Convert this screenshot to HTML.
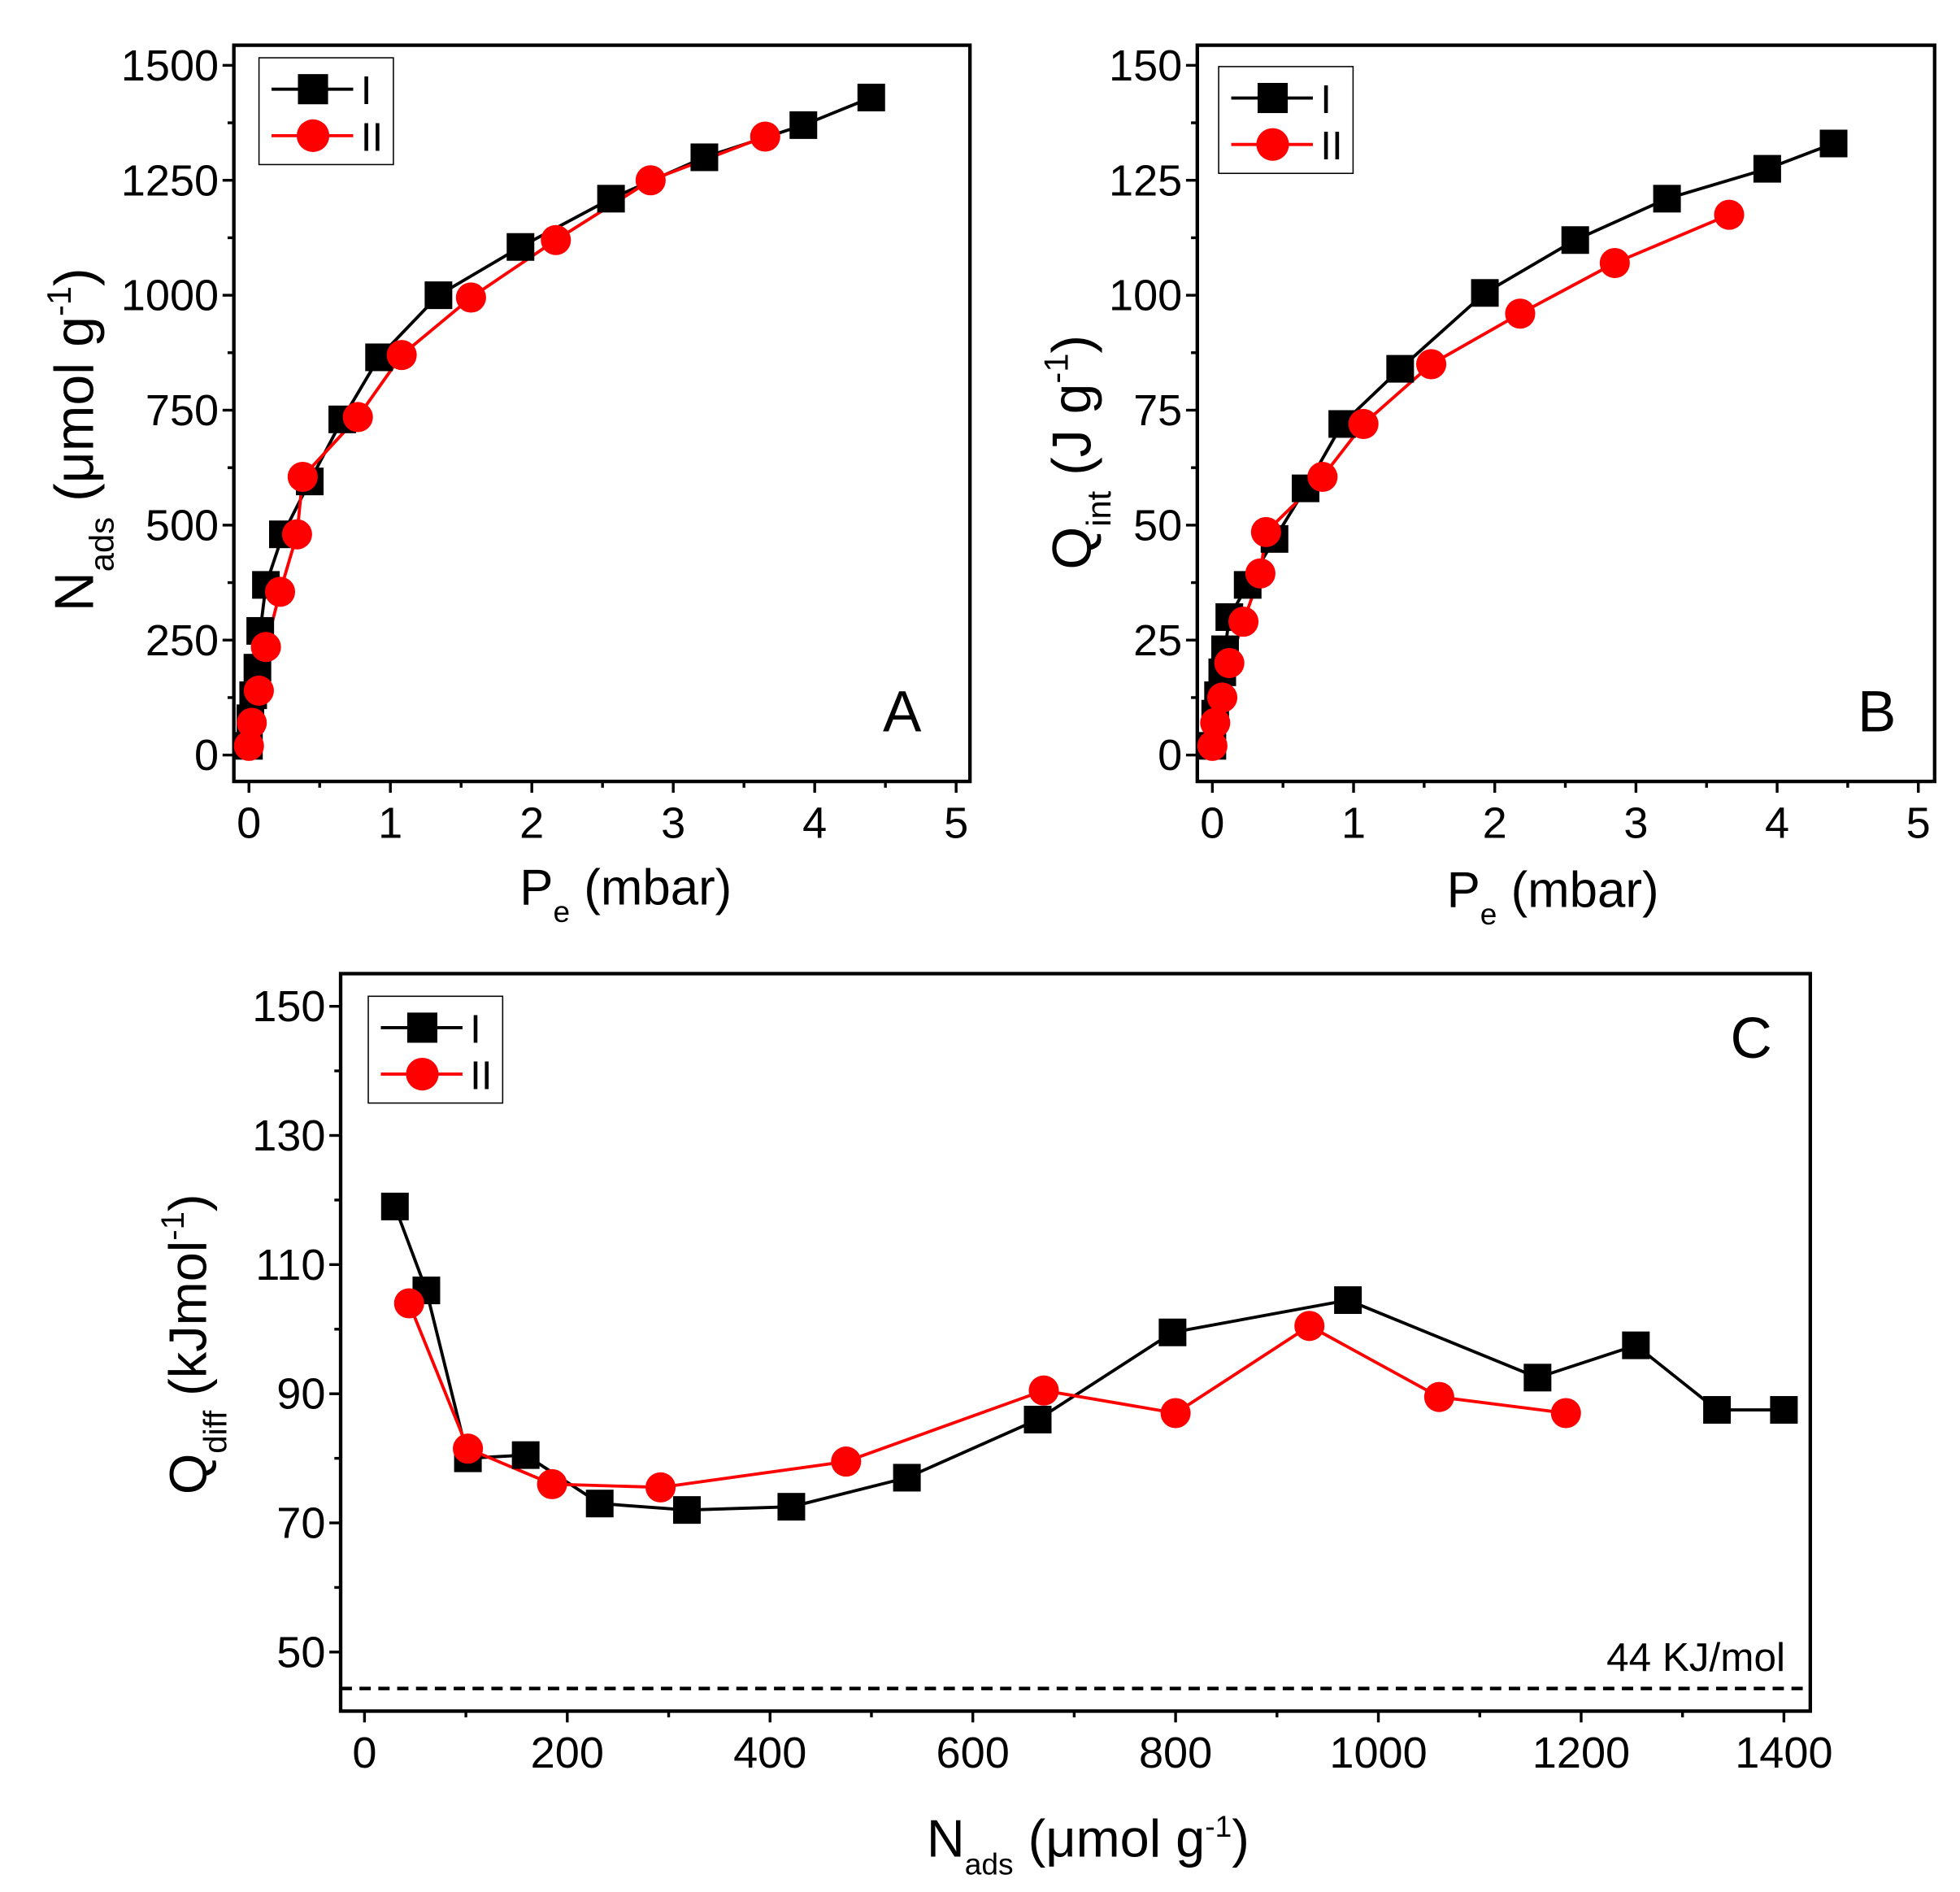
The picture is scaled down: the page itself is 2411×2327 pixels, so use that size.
<!DOCTYPE html>
<html><head><meta charset="utf-8"><style>
html,body{margin:0;padding:0;background:#fff;}
svg{display:block;}
text{font-family:"Liberation Sans",Arial,sans-serif;fill:#000;}
</style></head><body>
<svg id="s" width="2411" height="2327" viewBox="0 0 1560 1506" xmlns="http://www.w3.org/2000/svg"></svg>
<script>
var S=document.getElementById('s'),h='';
function panel(o){
  var X=function(v){return o.x0+(v-o.xa)*o.xs;},Y=function(v){return o.y0-(v-o.ya)*o.ys;};
  h+='<rect x="'+o.L+'" y="'+o.T+'" width="'+(o.R-o.L)+'" height="'+(o.B-o.T)+'" fill="none" stroke="#000" stroke-width="2.8"/>';
  o.yt.forEach(function(v){var y=Y(v);h+='<line x1="'+(o.L-9)+'" y1="'+y+'" x2="'+o.L+'" y2="'+y+'" stroke="#000" stroke-width="2.2"/>';
    h+='<text x="'+(o.L-12)+'" y="'+(y+12)+'" font-size="'+o.fs+'" text-anchor="end">'+v+'</text>';});
  o.ym.forEach(function(v){var y=Y(v);h+='<line x1="'+(o.L-5)+'" y1="'+y+'" x2="'+o.L+'" y2="'+y+'" stroke="#000" stroke-width="2.2"/>';});
  o.xt.forEach(function(v){var x=X(v);h+='<line x1="'+x+'" y1="'+o.B+'" x2="'+x+'" y2="'+(o.B+9)+'" stroke="#000" stroke-width="2.2"/>';
    h+='<text x="'+x+'" y="'+(o.B+45)+'" font-size="'+o.fs+'" text-anchor="middle">'+v+'</text>';});
  o.xm.forEach(function(v){var x=X(v);h+='<line x1="'+x+'" y1="'+o.B+'" x2="'+x+'" y2="'+(o.B+5)+'" stroke="#000" stroke-width="2.2"/>';});
  function pts(d){return d.map(function(p){return X(p[0])+','+Y(p[1]);}).join(' ');}
  h+='<polyline points="'+pts(o.s1)+'" fill="none" stroke="#000" stroke-width="2.5"/>';
  h+='<polyline points="'+pts(o.s2)+'" fill="none" stroke="#f00" stroke-width="2.5"/>';
  o.s1.forEach(function(p){h+='<rect x="'+(X(p[0])-11)+'" y="'+(Y(p[1])-11)+'" width="22" height="22" fill="#000"/>';});
  o.s2.forEach(function(p){h+='<circle cx="'+X(p[0])+'" cy="'+Y(p[1])+'" r="12" fill="#f00"/>';});
  var lx=o.lg[0],ly=o.lg[1];
  h+='<rect x="'+lx+'" y="'+ly+'" width="107" height="85" fill="#fff" stroke="#000" stroke-width="1"/>';
  h+='<line x1="'+(lx+10)+'" y1="'+(ly+25)+'" x2="'+(lx+75)+'" y2="'+(ly+25)+'" stroke="#000" stroke-width="2.5"/>';
  h+='<rect x="'+(lx+31)+'" y="'+(ly+13)+'" width="24" height="24" fill="#000"/>';
  h+='<line x1="'+(lx+10)+'" y1="'+(ly+62)+'" x2="'+(lx+75)+'" y2="'+(ly+62)+'" stroke="#f00" stroke-width="2.5"/>';
  h+='<circle cx="'+(lx+43)+'" cy="'+(ly+62)+'" r="13" fill="#f00"/>';
  h+='<text x="'+(lx+81)+'" y="'+(ly+37)+'" font-size="32">I</text>';
  h+='<text x="'+(lx+81)+'" y="'+(ly+74)+'" font-size="32">II</text>';
}
panel({L:186,R:772,T:36,B:622,x0:198,xa:0,xs:112.6,y0:601,ya:0,ys:549/1500,fs:35,
 yt:[0,250,500,750,1000,1250,1500],ym:[125,375,625,875,1125,1375],xt:[0,1,2,3,4,5],xm:[0.5,1.5,2.5,3.5,4.5],
 s1:[[0,20],[0.01,80],[0.03,130],[0.06,190],[0.08,270],[0.12,370],[0.24,480],[0.43,595],[0.66,730],[0.92,865],[1.34,1000],[1.92,1105],[2.56,1210],[3.22,1300],[3.92,1370],[4.4,1430]],
 s2:[[0,20],[0.02,70],[0.07,140],[0.12,235],[0.22,355],[0.34,480],[0.38,605],[0.77,735],[1.08,870],[1.57,995],[2.17,1120],[2.84,1250],[3.65,1345]],
 lg:[206,46]});
panel({L:953,R:1540,T:36,B:622,x0:965,xa:0,xs:112.4,y0:601,ya:0,ys:549/150,fs:35,
 yt:[0,25,50,75,100,125,150],ym:[12.5,37.5,62.5,87.5,112.5,137.5],xt:[0,1,2,3,4,5],xm:[0.5,1.5,2.5,3.5,4.5],
 s1:[[0,2],[0.02,9],[0.04,13],[0.07,18],[0.09,23],[0.12,30],[0.25,37],[0.44,47],[0.66,58],[0.92,72],[1.33,84],[1.93,100.5],[2.57,112],[3.22,121],[3.93,127.5],[4.4,133]],
 s2:[[0,2],[0.02,7],[0.07,12.5],[0.12,20],[0.22,29],[0.34,39.5],[0.38,48.5],[0.78,60.5],[1.07,72],[1.55,85],[2.18,96],[2.85,107],[3.66,117.5]],
 lg:[970,53]});
panel({L:271,R:1441,T:775,B:1362,x0:290,xa:0,xs:1130/1400,y0:1315,ya:50,ys:514/100,fs:35,
 yt:[50,70,90,110,130,150],ym:[60,80,100,120,140],xt:[0,200,400,600,800,1000,1200,1400],xm:[100,300,500,700,900,1100,1300],
 s1:[[30,119],[61,106],[102,80],[159,80.5],[232,73],[318,72],[421,72.5],[535,77],[664,86],[797,99.5],[970,104.5],[1157,92.5],[1254,97.5],[1334,87.5],[1400,87.5]],
 s2:[[44,104],[102,81.5],[185,76],[292,75.5],[475,79.5],[670,90.5],[800,87],[932,100.5],[1060,89.5],[1185,87]],
 lg:[293,793]});
h+='<line x1="271" y1="1344" x2="1441" y2="1344" stroke="#000" stroke-width="2.8" stroke-dasharray="9,6"/>';
h+='<text x="1421" y="1330" font-size="32" text-anchor="end">44 KJ/mol</text>';
h+='<text x="718" y="582" font-size="46" text-anchor="middle">A</text>';
h+='<text x="1494" y="582" font-size="46" text-anchor="middle">B</text>';
h+='<text x="1394" y="842" font-size="46" text-anchor="middle">C</text>';
h+='<text x="498" y="720" font-size="40" text-anchor="middle">P<tspan font-size="24" dy="14">e</tspan><tspan dy="-14"> (mbar)</tspan></text>';
h+='<text x="1236" y="722" font-size="40" text-anchor="middle">P<tspan font-size="24" dy="14">e</tspan><tspan dy="-14"> (mbar)</tspan></text>';
h+='<text x="866" y="1478" font-size="42" text-anchor="middle">N<tspan font-size="24" dy="14">ads</tspan><tspan dy="-14"> (μmol g</tspan><tspan font-size="24" dy="-16">-1</tspan><tspan dy="16">)</tspan></text>';
h+='<text transform="translate(74,350) rotate(-90)" font-size="44" text-anchor="middle">N<tspan font-size="27" dy="16">ads</tspan><tspan dy="-16"> (μmol g</tspan><tspan font-size="27" dy="-18">-1</tspan><tspan dy="18">)</tspan></text>';
h+='<text transform="translate(868,360) rotate(-90)" font-size="44" text-anchor="middle">Q<tspan font-size="27" dy="16">int</tspan><tspan dy="-16"> (J g</tspan><tspan font-size="27" dy="-18">-1</tspan><tspan dy="18">)</tspan></text>';
h+='<text transform="translate(164,1070) rotate(-90)" font-size="42" text-anchor="middle">Q<tspan font-size="26" dy="16">diff</tspan><tspan dy="-16"> (kJmol</tspan><tspan font-size="26" dy="-18">-1</tspan><tspan dy="18">)</tspan></text>';
S.innerHTML=h;
</script>
</body></html>
